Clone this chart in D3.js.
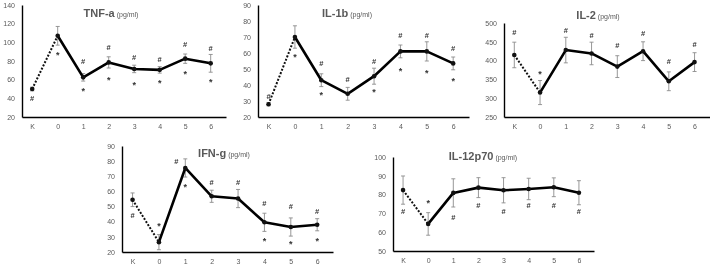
<!DOCTYPE html>
<html>
<head>
<meta charset="utf-8">
<script src="https://cdn.jsdelivr.net/npm/d3@7"></script>
<style>
body { margin: 0; background: #fff; }
svg { will-change: transform; }
text { font-family: "Liberation Sans", Arial, sans-serif; }
</style>
</head>
<body>
<svg width="710" height="268"></svg>
<script>
var cats = ["K", "0", "1", "2", "3", "4", "5", "6"];

// TNF-a
var tnfMean = [50, 107, 62.5, 78.5, 71.5, 70.5, 82.5, 77.5];
var tnfErr = [2, 10, 4, 6, 4, 3.5, 5, 9.5];
var tnfHash = [40, null, 80, 95, 84, 82, 98, 94];
var tnfStar = [null, 89, 50, 62, 57, 58.5, 68.5, 60];
var tnfTicks = [20, 40, 60, 80, 100, 120, 140];

// IL-1b
var il1bMean = [28, 70, 43, 34.5, 45.5, 61, 61, 53.5];
var il1bErr = [1, 7, 4, 4, 5, 4, 6, 4];
var il1bHash = [33, null, 53.5, 43.5, 55, 71, 71, 63];
var il1bStar = [null, 59, 35, null, 37, 50, 49, 44];
var il1bTicks = [20, 30, 40, 50, 60, 70, 80, 90];

// IL-2
var il2Mean = [415, 315, 428, 419, 384, 425, 345, 396];
var il2Err = [34, 32, 34, 30, 29, 25, 25, 25];
var il2Hash = [474, null, 481, 468, 441, 472, 397, 443];
var il2Star = [null, 370, null, null, null, null, null, null];
var il2Ticks = [250, 300, 350, 400, 450, 500];

// IFN-g
var ifnMean = [54.5, 26.5, 75.5, 56.8, 55.3, 39.6, 36.5, 38];
var ifnErr = [4.5, 5, 6, 4, 6, 6, 6, 4];
var ifnHash = [44, null, 80, 66, 66, 52, 50, 47];
var ifnStar = [null, 39, 64.5, null, null, 29, 27, 29];
var ifnTicks = [20, 30, 40, 50, 60, 70, 80, 90];

// IL-12p70
var il12Mean = [82.4, 64.4, 80.9, 83.7, 82.3, 83, 83.9, 81];
var il12Err = [7.5, 6, 7.5, 5.3, 6.7, 5.7, 5, 6.4];
var il12Hash = [71.3, null, 68, 74.5, 71.3, 74.5, 74.5, 71.3];
var il12Star = [null, 76.8, null, null, null, null, null, null];
var il12Ticks = [50, 60, 70, 80, 90, 100];

var svg = d3.select("svg");

var panels = [
  {title: "TNF-a", mean: tnfMean, err: tnfErr, hash: tnfHash, star: tnfStar, ticks: tnfTicks,
   left: 22, right: 226, top: 5, bottom: 117, tx: 111, ty: 17},
  {title: "IL-1b", mean: il1bMean, err: il1bErr, hash: il1bHash, star: il1bStar, ticks: il1bTicks,
   left: 258, right: 469, top: 5, bottom: 117, tx: 347, ty: 17},
  {title: "IL-2", mean: il2Mean, err: il2Err, hash: il2Hash, star: il2Star, ticks: il2Ticks,
   left: 504, right: 710, top: 23, bottom: 117, tx: 598, ty: 19},
  {title: "IFN-g", mean: ifnMean, err: ifnErr, hash: ifnHash, star: ifnStar, ticks: ifnTicks,
   left: 122, right: 333, top: 146, bottom: 252, tx: 224, ty: 157},
  {title: "IL-12p70", mean: il12Mean, err: il12Err, hash: il12Hash, star: il12Star, ticks: il12Ticks,
   left: 393, right: 594, top: 157, bottom: 251, tx: 483, ty: 160}
];

panels.forEach(drawPanel);

function drawPanel(p) {
  var x = d3.scalePoint().domain(cats).range([p.left, p.right]).padding(0.5).align(0.4);
  var y = d3.scaleLinear()
    .domain([p.ticks[0], p.ticks[p.ticks.length - 1]])
    .range([p.bottom, p.top]);
  var g = svg.append("g");

  var ya = g.append("g")
    .attr("transform", "translate(" + p.left + ",0)")
    .call(d3.axisLeft(y).tickValues(p.ticks).tickSize(0).tickPadding(7));
  var xa = g.append("g")
    .attr("transform", "translate(0," + p.bottom + ")")
    .call(d3.axisBottom(x).tickSize(0).tickPadding(7));
  [ya, xa].forEach(function(a) {
    a.select(".domain").attr("stroke", "#000").attr("stroke-width", 1.4);
    a.selectAll("text").attr("fill", "#595959").style("font-size", "7px");
  });

  var pts = cats.map(function(c, i) {
    return {c: c, m: p.mean[i], e: p.err[i], h: p.hash[i], s: p.star[i]};
  });

  // error bars
  var eb = g.selectAll(".eb").data(pts).enter().append("g").attr("stroke", "#8c8c8c").attr("stroke-width", 0.9);
  eb.append("line")
    .attr("x1", function(d) { return x(d.c); }).attr("x2", function(d) { return x(d.c); })
    .attr("y1", function(d) { return y(d.m - d.e); }).attr("y2", function(d) { return y(d.m + d.e); });
  eb.append("line")
    .attr("x1", function(d) { return x(d.c) - 2; }).attr("x2", function(d) { return x(d.c) + 2; })
    .attr("y1", function(d) { return y(d.m + d.e); }).attr("y2", function(d) { return y(d.m + d.e); });
  eb.append("line")
    .attr("x1", function(d) { return x(d.c) - 2; }).attr("x2", function(d) { return x(d.c) + 2; })
    .attr("y1", function(d) { return y(d.m - d.e); }).attr("y2", function(d) { return y(d.m - d.e); });

  var line = d3.line().x(function(d) { return x(d.c); }).y(function(d) { return y(d.m); });
  // dotted K -> 0
  g.append("path").datum(pts.slice(0, 2))
    .attr("d", line).attr("fill", "none").attr("stroke", "#111")
    .attr("stroke-width", 2).attr("stroke-dasharray", "2,1.6");
  // solid 0 -> 6
  g.append("path").datum(pts.slice(1))
    .attr("d", line).attr("fill", "none").attr("stroke", "#000")
    .attr("stroke-width", 2.6).attr("stroke-linejoin", "round");

  g.selectAll(".pt").data(pts).enter().append("circle")
    .attr("cx", function(d) { return x(d.c); })
    .attr("cy", function(d) { return y(d.m); })
    .attr("r", 2.3).attr("fill", "#111");

  // # marks (shifted left if they would sit on the error bar)
  g.selectAll(".hash").data(pts.filter(function(d) { return d.h != null; })).enter().append("text")
    .attr("x", function(d) {
      var onBar = d.h > d.m - d.e && d.h < d.m + d.e + 1;
      return x(d.c) + (onBar ? -9 : 0);
    })
    .attr("y", function(d) { return y(d.h); })
    .attr("dy", "0.35em").attr("text-anchor", "middle")
    .attr("fill", "#333").style("font-size", "7.5px").style("font-weight", "bold")
    .text("#");
  g.selectAll(".star").data(pts.filter(function(d) { return d.s != null; })).enter().append("text")
    .attr("x", function(d) { return x(d.c); })
    .attr("y", function(d) { return y(d.s); })
    .attr("dy", "0.6em").attr("text-anchor", "middle")
    .attr("fill", "#333").style("font-size", "9px").style("font-weight", "bold")
    .text("*");

  var t = g.append("text").attr("x", p.tx).attr("y", p.ty)
    .attr("text-anchor", "middle").attr("fill", "#595959");
  t.append("tspan").style("font-size", "11px").style("font-weight", "bold").text(p.title);
  t.append("tspan").style("font-size", "7px").text(" (pg/ml)");
}
</script>
</body>
</html>
